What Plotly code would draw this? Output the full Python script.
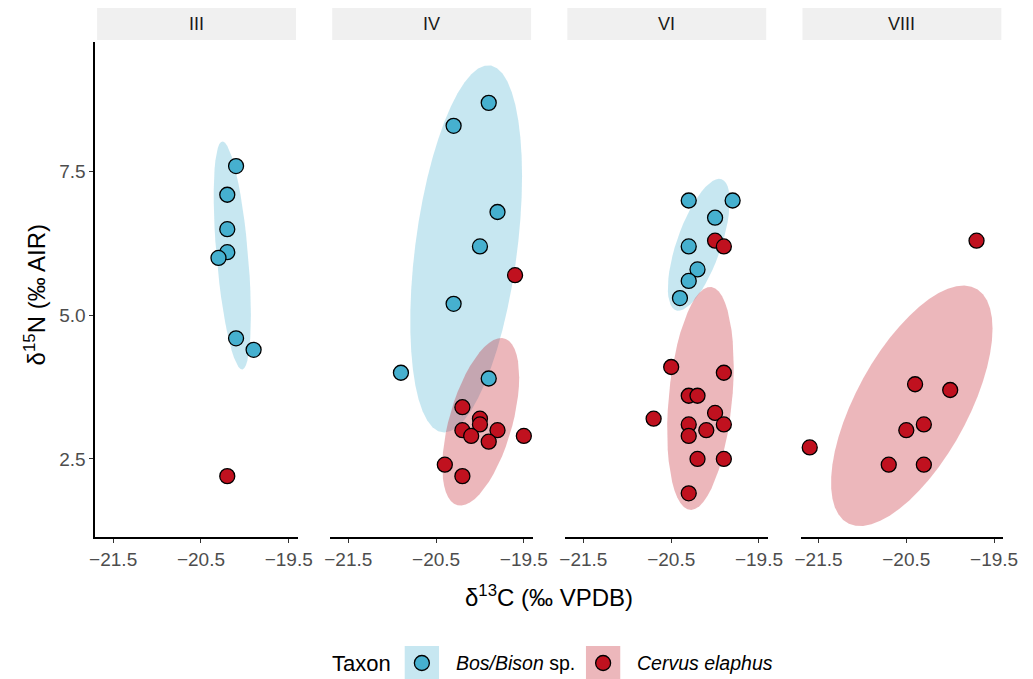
import numpy as np
import plotly.graph_objects as go

# ---------------- data ----------------
panels = ["III", "IV", "VI", "VIII"]
taxa = ["Bos/Bison sp.", "Cervus elaphus"]

III_bos_c = [-20.10, -20.20, -20.20, -20.20, -20.30, -20.10, -19.90]
III_bos_n = [7.60, 7.10, 6.50, 6.10, 6.00, 4.60, 4.40]
III_cer_c = [-20.20]
III_cer_n = [2.20]

IV_bos_c = [-19.90, -20.30, -19.80, -20.00, -20.30, -20.90, -19.90]
IV_bos_n = [8.70, 8.30, 6.80, 6.20, 5.20, 4.00, 3.90]
IV_cer_c = [-19.60, -20.20, -20.00, -20.00, -20.20, -20.10, -19.80, -19.90, -19.50, -20.40, -20.20]
IV_cer_n = [5.70, 3.40, 3.20, 3.10, 3.00, 2.90, 3.00, 2.80, 2.90, 2.40, 2.20]

VI_bos_c = [-20.30, -19.80, -20.00, -20.30, -20.20, -20.30, -20.40]
VI_bos_n = [7.00, 7.00, 6.70, 6.20, 5.80, 5.60, 5.30]
VI_cer_c = [-20.00, -19.90, -20.50, -19.90, -20.30, -20.20, -20.70, -20.00, -20.30, -19.90,
            -20.10, -20.30, -20.20, -19.90, -20.30]
VI_cer_n = [6.30, 6.20, 4.10, 4.00, 3.60, 3.60, 3.20, 3.30, 3.10, 3.10,
            3.00, 2.90, 2.50, 2.50, 1.90]

VIII_bos_c = []
VIII_bos_n = []
VIII_cer_c = [-19.70, -20.40, -20.00, -20.30, -20.50, -21.60, -20.70, -20.30]
VIII_cer_n = [6.30, 3.80, 3.70, 3.10, 3.00, 2.70, 2.40, 2.40]

data = {
    "III": {taxa[0]: (III_bos_c, III_bos_n), taxa[1]: (III_cer_c, III_cer_n)},
    "IV": {taxa[0]: (IV_bos_c, IV_bos_n), taxa[1]: (IV_cer_c, IV_cer_n)},
    "VI": {taxa[0]: (VI_bos_c, VI_bos_n), taxa[1]: (VI_cer_c, VI_cer_n)},
    "VIII": {taxa[0]: (VIII_bos_c, VIII_bos_n), taxa[1]: (VIII_cer_c, VIII_cer_n)},
}

x_ticks = [-21.5, -20.5, -19.5]
y_ticks = [2.5, 5.0, 7.5]

# ---------------- styling ----------------
W, H = 1033, 679
point_col = {taxa[0]: "#46B0CF", taxa[1]: "#C0111F"}
fill_col = {taxa[0]: "rgba(70,176,207,0.3)", taxa[1]: "rgba(192,17,31,0.3)"}
FONT = "Liberation Sans, Arial, sans-serif"
ELLIPSE_LEVEL = 0.68


def ellipse(xs, ys, level=ELLIPSE_LEVEL, segments=51):
    """Normal-theory confidence ellipse (as ggplot2 stat_ellipse type='norm')."""
    pts = np.column_stack([xs, ys])
    cov, center = np.cov(pts.T), pts.mean(axis=0)
    dfd = len(xs) - 1
    fq = (dfd / 2.0) * ((1 - level) ** (-2.0 / dfd) - 1)   # qf(level, 2, dfd)
    radius = np.sqrt(2 * fq)
    L = np.linalg.cholesky(cov)
    ang = np.arange(segments + 1) * 2 * np.pi / segments
    circ = np.column_stack([np.cos(ang), np.sin(ang)])
    e = center + radius * (circ @ L.T)
    return e[:, 0], e[:, 1]


fig = go.Figure()

x_range = [-21.705, -19.395]
y_range = [1.14, 9.76]
y_dom = [1 - 537 / H, 1 - 42 / H]

for k, p in enumerate(panels):
    ax = "" if k == 0 else str(k + 1)
    for t in taxa:
        xs, ys = data[p][t]
        if len(xs) >= 4:
            ex, ey = ellipse(np.array(xs), np.array(ys))
            fig.add_trace(go.Scatter(x=ex, y=ey, mode="lines", fill="toself",
                                     fillcolor=fill_col[t], line=dict(width=0),
                                     hoverinfo="skip", showlegend=False,
                                     xaxis="x" + ax, yaxis="y" + ax))
    for t in taxa:
        xs, ys = data[p][t]
        if len(xs) == 0:
            continue
        fig.add_trace(go.Scatter(x=xs, y=ys, mode="markers", name=t,
                                 marker=dict(size=15, color=point_col[t],
                                             line=dict(color="black", width=1.3)),
                                 showlegend=False, xaxis="x" + ax, yaxis="y" + ax))

    x0 = (91 + 240 * k) / W
    x1 = (298 + 240 * k) / W
    fig.update_layout(**{
        "xaxis" + ax: dict(domain=[x0, x1], range=x_range, tickvals=x_ticks,
                           tickformat=".1f", showgrid=False, zeroline=False,
                           showline=True, linecolor="black", linewidth=1.6,
                           ticks="outside", ticklen=4, tickcolor="#333333",
                           tickfont=dict(size=19, color="#4D4D4D", family=FONT),
                           anchor="y" + ax),
        "yaxis" + ax: dict(domain=y_dom, range=y_range, tickvals=y_ticks,
                           tickformat=".1f", showgrid=False, zeroline=False,
                           showline=(k == 0), linecolor="black", linewidth=1.6,
                           ticks="outside" if k == 0 else "", ticklen=4,
                           tickcolor="#333333", showticklabels=(k == 0),
                           tickfont=dict(size=19, color="#4D4D4D", family=FONT),
                           anchor="x" + ax),
    })
    fig.add_shape(type="rect", xref="paper", yref="paper",
                  x0=(93 + 240 * k) / W, x1=(296 + 240 * k) / W,
                  y0=1 - 40 / H, y1=1 - 8 / H,
                  fillcolor="#F0F0F0", line=dict(width=0), layer="below")
    fig.add_annotation(text=p, xref="paper", yref="paper",
                       x=(194.5 + 240 * k) / W, y=1 - 24 / H, showarrow=False,
                       xanchor="center", yanchor="middle",
                       font=dict(size=18, color="#1A1A1A", family=FONT))

fig.add_annotation(text="δ<sup>15</sup>N (‰ AIR)", xref="paper", yref="paper",
                   x=30 / W, y=1 - 295 / H, textangle=-90, showarrow=False,
                   xanchor="center", yanchor="middle",
                   font=dict(size=24, color="black", family=FONT))
fig.add_annotation(text="δ<sup>13</sup>C (‰ VPDB)", xref="paper", yref="paper",
                   x=554 / W, y=1 - 596 / H, showarrow=False,
                   xanchor="center", yanchor="middle",
                   font=dict(size=24, color="black", family=FONT))

leg_y = 1 - 663 / H
fig.add_annotation(text="Taxon", xref="paper", yref="paper", x=331 / W, y=leg_y,
                   showarrow=False, xanchor="left", yanchor="middle",
                   font=dict(size=22, color="black", family=FONT))
key_x = {taxa[0]: 407, taxa[1]: 592}
labels = {taxa[0]: "<i>Bos/Bison</i> sp.", taxa[1]: "<i>Cervus elaphus</i>"}
for t in taxa:
    kx = key_x[t]
    fig.add_shape(type="rect", xref="paper", yref="paper",
                  x0=kx / W, x1=(kx + 35) / W, y0=0, y1=1 - 646 / H,
                  fillcolor=fill_col[t], line=dict(width=0))
    fig.add_shape(type="circle", xref="paper", yref="paper",
                  xsizemode="pixel", ysizemode="pixel",
                  xanchor=(kx + 17.5) / W, yanchor=leg_y,
                  x0=-7.5, x1=7.5, y0=-7.5, y1=7.5,
                  fillcolor=point_col[t], line=dict(color="black", width=1.3))
    fig.add_annotation(text=labels[t], xref="paper", yref="paper",
                       x=(kx + 50) / W, y=leg_y, showarrow=False,
                       xanchor="left", yanchor="middle",
                       font=dict(size=19.5, color="black", family=FONT))

fig.update_layout(width=W, height=H, margin=dict(l=0, r=0, t=0, b=0),
                  paper_bgcolor="white", plot_bgcolor="white",
                  font=dict(family=FONT), showlegend=False)

fig.write_html("out.html", config={"displayModeBar": False},
               post_script="document.body.style.margin='0';document.body.style.overflow='hidden';")
